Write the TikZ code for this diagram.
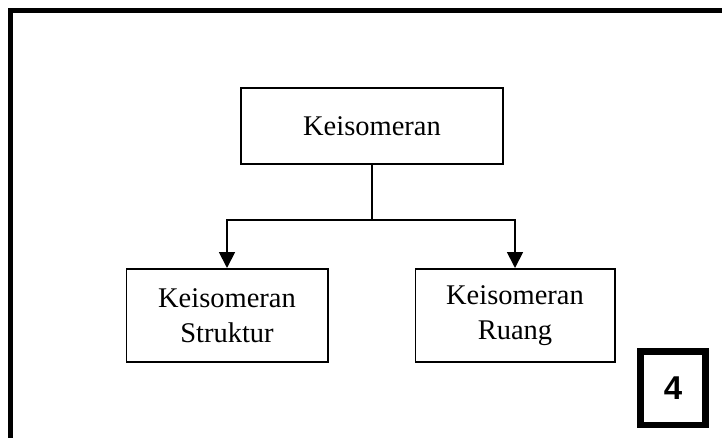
\documentclass[tikz,border=0pt]{standalone}
\usepackage{fontspec}
\setmainfont{Liberation Serif}
\setsansfont{Liberation Sans}
\usetikzlibrary{arrows.meta}
\begin{document}
\begin{tikzpicture}[x=1pt,y=-1pt,
  box/.style={draw,line width=1.8pt,rectangle,inner sep=0pt,align=center,
    font=\fontsize{28.5}{34.5}\selectfont},
  link/.style={line width=1.8pt},
  arrowlink/.style={line width=1.8pt,-{Triangle[width=16pt,length=16pt]}},
  frame/.style={line width=4.6pt},
  tag/.style={draw,line width=6.5pt,rectangle,inner sep=0pt,
    font=\sffamily\bfseries\fontsize{33}{36}\selectfont}]
\useasboundingbox (0,0) rectangle (722,437);
\clip (0,0) rectangle (722,437);
% outer page frame (continues past the right and lower edges)
\draw[frame] (10.5,460) -- (10.5,10.5) -- (740,10.5);
% diagram boxes
\node[box,minimum width=262.2pt,minimum height=76.2pt] (root) at (372,126) {Keisomeran};
\node[box,minimum width=201.2pt,minimum height=93.2pt] (struct) at (227,315.5) {Keisomeran\\Struktur};
\node[box,minimum width=199.2pt,minimum height=93.2pt] (space) at (515,315.5) {Keisomeran\\Ruang};
% connectors
\coordinate (split) at (372,220);
\draw[link] (root.south) -- (split);
\draw[arrowlink] (split) -| (struct.north);
\draw[arrowlink] (split) -| (space.north);
% page number tag
\node[tag,minimum width=65pt,minimum height=73.5pt] (num) at (673,388) {4};
\end{tikzpicture}
\end{document}
